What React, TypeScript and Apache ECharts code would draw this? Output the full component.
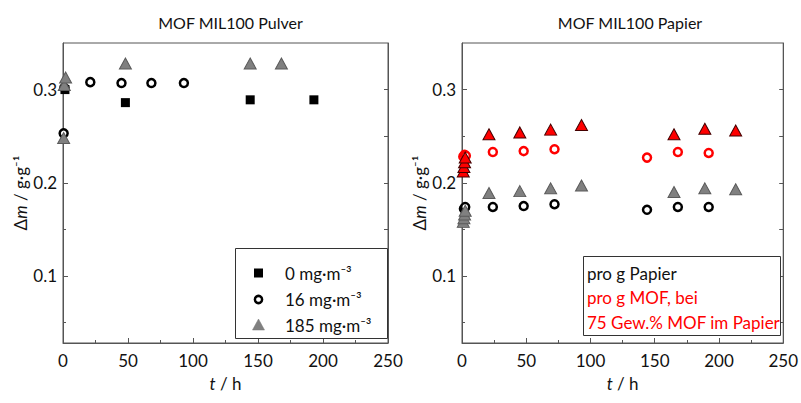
import React, { useEffect, useRef } from "react";
import * as echarts from "echarts";

// Left panel: MOF MIL100 Pulver
const pulver0T = [1.5, 48, 144, 193];
const pulver0V = [0.3, 0.286, 0.289, 0.289];
const pulver16T = [0.5, 1, 21, 45, 68, 93];
const pulver16V = [0.253, 0.302, 0.308, 0.307, 0.307, 0.307];
const pulver185T = [0.5, 1, 2, 48, 144, 168];
const pulver185V = [0.248, 0.305, 0.313, 0.328, 0.328, 0.328];

// Right panel: MOF MIL100 Papier
const papier16T = [1.5, 2.5, 24, 48, 72, 144, 168, 192];
const papier16V = [0.172, 0.174, 0.174, 0.175, 0.177, 0.171, 0.174, 0.174];
const papier185T = [1, 1.5, 2, 2.5, 21, 45, 69, 93, 165, 189, 213];
const papier185V = [0.158, 0.162, 0.166, 0.17, 0.189, 0.191, 0.194, 0.197, 0.19, 0.194, 0.193];
const mof16T = [1, 2, 3, 24, 48, 72, 144, 168, 192];
const mof16V = [0.228, 0.23, 0.229, 0.233, 0.234, 0.236, 0.227, 0.233, 0.232];
const mof185T = [1, 1.5, 2, 2.5, 21, 45, 69, 93, 165, 189, 213];
const mof185V = [0.212, 0.217, 0.222, 0.227, 0.252, 0.254, 0.257, 0.262, 0.252, 0.258, 0.256];

const legendNames = ["0 mg·m⁻³", "16 mg·m⁻³", "185 mg·m⁻³"];
const titles = ["MOF MIL100 Pulver", "MOF MIL100 Papier"];
const boxTexts = ["pro g Papier", "pro g MOF, bei", "75 Gew.% MOF im Papier"];
const yMajor = [0.1, 0.2, 0.3];
const yMinor = [0.05, 0.15, 0.25];
const yAll = [0.05, 0.1, 0.15, 0.2, 0.25, 0.3];

const FONT = "Lato, 'Open Sans', sans-serif";
const AX = "#555";
const GRAY = "#808080";

const zip = (t: number[], v: number[]) => t.map((x, i) => [x, v[i]]);

export default function App() {
  const ref = useRef<HTMLDivElement>(null);
  useEffect(() => {
    document.body.style.margin = "0";
    const chart = echarts.init(ref.current!, null, { renderer: "svg" });
    const grids = [
      { left: 63, top: 43, width: 325, height: 300 },
      { left: 462, top: 43, width: 326, height: 300 },
    ];
    const nameStyle = {
      color: "#111",
      fontSize: 17,
      fontFamily: FONT,
      rich: { i: { fontStyle: "italic", fontSize: 17, fontFamily: FONT, color: "#111" } },
    };
    const xAxes = [0, 1].map((g) => ({
      type: "value",
      gridIndex: g,
      min: 0,
      max: 250,
      interval: 50,
      axisLine: { show: true, lineStyle: { color: AX } },
      axisTick: { show: true, inside: true, length: 5, lineStyle: { color: AX } },
      minorTick: { show: true, splitNumber: 2, length: 3, lineStyle: { color: AX } },
      splitLine: { show: false },
      axisLabel: { color: "#111", fontSize: 17, fontFamily: FONT, margin: 9 },
      name: "{i|t} / h",
      nameLocation: "middle",
      nameGap: 32,
      nameTextStyle: nameStyle,
    }));
    const yAxes: any[] = [];
    [0, 1].forEach((g) => {
      yAxes.push({
        type: "value",
        gridIndex: g,
        position: "left",
        min: 0.028,
        max: 0.35,
        axisLine: { show: true, lineStyle: { color: AX } },
        axisTick: { show: true, inside: true, length: 5, customValues: yMajor, lineStyle: { color: AX } },
        axisLabel: {
          customValues: yMajor,
          color: "#111",
          fontSize: 17,
          fontFamily: FONT,
          margin: 6,
          formatter: (v: number) => v.toFixed(1),
        },
        splitLine: { show: false },
        name: "Δ{i|m} / g·g⁻¹",
        nameLocation: "middle",
        nameGap: 31,
        nameRotate: 90,
        nameTextStyle: nameStyle,
      });
      yAxes.push({
        type: "value",
        gridIndex: g,
        position: "left",
        min: 0.028,
        max: 0.35,
        axisLine: { show: false },
        axisTick: { show: true, inside: true, length: 3, customValues: yMinor, lineStyle: { color: AX } },
        axisLabel: { show: false, customValues: yMinor },
        splitLine: { show: false },
      });
      yAxes.push({
        type: "value",
        gridIndex: g,
        position: "right",
        min: 0.028,
        max: 0.35,
        axisLine: { show: true, lineStyle: { color: AX } },
        axisTick: { show: true, inside: true, length: 4, customValues: yAll, lineStyle: { color: AX } },
        axisLabel: { show: false, customValues: yAll },
        splitLine: { show: false },
      });
    });

    const circle = (color: string) => ({
      symbol: "circle",
      symbolSize: 8,
      itemStyle: { color: "#fff", borderColor: color, borderWidth: 2.5, opacity: 1 },
    });
    const tri = (fill: string, border: string) => ({
      symbol: "triangle",
      symbolSize: [12, 11],
      itemStyle: { color: fill, borderColor: border, borderWidth: 1, opacity: 1 },
    });
    const square = {
      symbol: "rect",
      symbolSize: 9,
      itemStyle: { color: "#000", borderColor: "#000", borderWidth: 0, opacity: 1 },
    };

    const series: any[] = [
      { type: "scatter", name: legendNames[0], xAxisIndex: 0, yAxisIndex: 0, data: zip(pulver0T, pulver0V), ...square },
      { type: "scatter", name: legendNames[1], xAxisIndex: 0, yAxisIndex: 0, data: zip(pulver16T, pulver16V), ...circle("#000") },
      { type: "scatter", name: legendNames[2], xAxisIndex: 0, yAxisIndex: 0, data: zip(pulver185T, pulver185V), ...tri(GRAY, "#5a5a5a") },
      { type: "scatter", name: "pro g Papier 16", xAxisIndex: 1, yAxisIndex: 3, data: zip(papier16T, papier16V), ...circle("#000") },
      { type: "scatter", name: "pro g Papier 185", xAxisIndex: 1, yAxisIndex: 3, data: zip(papier185T, papier185V), ...tri(GRAY, "#5a5a5a") },
      { type: "scatter", name: "pro g MOF 16", xAxisIndex: 1, yAxisIndex: 3, data: zip(mof16T, mof16V), ...circle("#ff0000") },
      { type: "scatter", name: "pro g MOF 185", xAxisIndex: 1, yAxisIndex: 3, data: zip(mof185T, mof185V), ...tri("#ff0000", "#400") },
    ];

    const rowY = [273, 299.5, 325];
    const legendGraphics: any[] = [
      {
        type: "rect",
        shape: { x: 235.5, y: 248.5, width: 152, height: 90 },
        style: { fill: "#fff", stroke: "#333", lineWidth: 1 },
        z: 10,
      },
      {
        type: "rect",
        shape: { x: 254, y: rowY[0] - 4.5, width: 9, height: 9 },
        style: { fill: "#000" },
        z: 11,
      },
      {
        type: "circle",
        shape: { cx: 258.5, cy: rowY[1], r: 3.6 },
        style: { fill: "#fff", stroke: "#000", lineWidth: 2.5 },
        z: 11,
      },
      {
        type: "polygon",
        shape: { points: [[252.5, rowY[2] + 5], [264.5, rowY[2] + 5], [258.5, rowY[2] - 6]] },
        style: { fill: GRAY, stroke: "#777", lineWidth: 0.5 },
        z: 11,
      },
      ...legendNames.map((t, i) => ({
        type: "text",
        x: 285,
        y: rowY[i],
        z: 11,
        style: { text: t, fill: "#111", fontSize: 17, fontFamily: FONT, verticalAlign: "middle" },
      })),
    ];

    chart.setOption({
      animation: false,
      backgroundColor: "#fff",
      title: titles.map((t, i) => ({
        text: t,
        left: grids[i].left + grids[i].width / 2,
        textAlign: "center",
        top: 9,
        textStyle: { fontSize: 16, fontWeight: "normal", color: "#111", fontFamily: FONT },
      })),
      grid: grids.map((g) => ({ ...g, show: true, borderColor: AX, borderWidth: 1, backgroundColor: "transparent" })),
      xAxis: xAxes,
      yAxis: yAxes,
      graphic: [
        ...legendGraphics,
        {
          type: "rect",
          shape: { x: 583.5, y: 256.5, width: 197, height: 79 },
          style: { fill: "#fff", stroke: "#333", lineWidth: 1 },
          z: 10,
        },
        ...boxTexts.map((t, i) => ({
          type: "text",
          x: 587,
          y: 273 + i * 24.5,
          z: 11,
          style: {
            text: t,
            fill: i === 0 ? "#111" : "#ff0000",
            fontSize: 17,
            fontFamily: FONT,
            verticalAlign: "middle",
          },
        })),
      ],
      series,
    });
    return () => chart.dispose();
  }, []);
  return <div ref={ref} style={{ width: 801, height: 403 }} />;
}
